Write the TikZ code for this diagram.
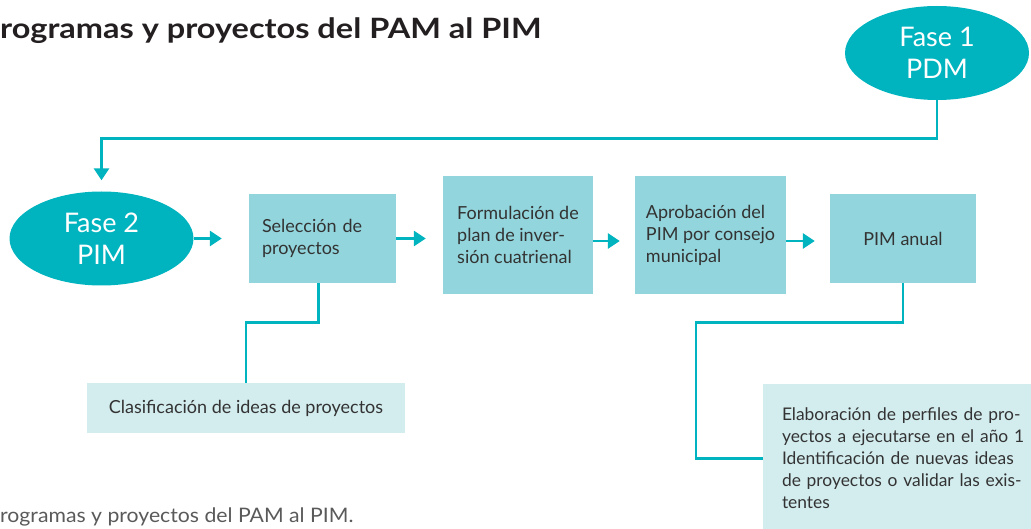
\documentclass[tikz,border=0pt]{standalone}
\usepackage{fontspec}
\setmainfont{Lato}
\usetikzlibrary{arrows.meta,shapes.geometric}
\definecolor{tealc}{HTML}{00B4BF}
\definecolor{boxc}{HTML}{92D5DC}
\definecolor{lightc}{HTML}{D3ECEE}
\definecolor{txtc}{HTML}{333333}
\definecolor{titlec}{HTML}{231F20}
\definecolor{capc}{HTML}{5A5A5A}
\begin{document}
\begin{tikzpicture}[x=1pt,y=-1pt,
  conn/.style={draw=tealc, line width=2.8pt},
  arr/.style={conn, -{Triangle[length=12pt,width=15pt]}},
  phase/.style={ellipse, fill=tealc, text=white, inner sep=0pt, minimum width=184pt, minimum height=94pt, font=\fontsize{27}{32}\selectfont, align=center},
  stepbox/.style={fill=boxc, text=txtc, inner sep=0pt, font=\fontsize{18}{22}\selectfont, align=left},
  notebox/.style={fill=lightc, text=txtc, inner sep=0pt, font=\fontsize{18}{22}\selectfont, align=left},
]
\useasboundingbox (0,0) rectangle (1031,529);
\clip (0,0) rectangle (1031,529);

\node[anchor=base west, inner sep=0pt, font=\fontsize{28}{30}\selectfont\bfseries, text=titlec] (title) at (0,39) {\scalebox{1.16}[1]{rogramas y proyectos del PAM al PIM}};

\node[phase] (f1) at (937,53) {Fase 1\\PDM};
\node[phase] (f2) at (101.5,238.5) {Fase 2\\PIM};

\node[stepbox, text width=121pt, inner xsep=13pt, minimum height=89pt] (b1) at (322.5,238.5) {Selección de\\proyectos};
\node[stepbox, minimum width=150pt, minimum height=118pt] (b2) at (518,235) {Formulación de\\plan de inver-\\sión cuatrienal};
\node[stepbox, minimum width=151pt, minimum height=118pt] (b3) at (710.5,235) {Aprobación del\\PIM por consejo\\municipal};
\node[stepbox, minimum width=146pt, minimum height=89pt] (b4) at (903,238.5) {PIM anual};

\node[notebox, minimum width=318pt, minimum height=50pt] (cl) at (246,408) {Clasificación de ideas de proyectos};
\node[notebox, font=\fontsize{17.4}{22}\selectfont, text width=256pt, inner xsep=19pt, minimum height=149pt] (b5) at (910,458.5) {Elaboración de perfiles de pro-\\yectos a ejecutarse en el año 1\\Identificación de nuevas ideas\\de proyectos o validar las exis-\\tentes};

\node[anchor=base west, inner sep=0pt, font=\fontsize{20}{22}\selectfont, text=capc] (cap) at (0,522) {\scalebox{1.06}[1]{rogramas y proyectos del PAM al PIM.}};

\draw[arr, shorten >=11pt] (f1.south) -- ++(0,38) -| (f2.north);
\draw[arr, shorten >=27pt] (f2.east) -- (f2.east -| b1.west);
\draw[arr, shorten >=17pt] (b1.east) -- (b1.east -| b2.west);
\draw[arr, shorten >=15pt] ([yshift=-6pt]b2.east) -- ([yshift=-6pt]b2.east -| b3.west);
\draw[arr, shorten >=15pt] ([yshift=-6pt]b3.east) -- ([yshift=-6pt]b3.east -| b4.west);
\draw[conn] ([xshift=-4pt]b1.south) -- ++(0,39) -| (cl.north);
\draw[conn] (b4.south) -- ++(0,39) -- ++(-207,0) |- (b5.west);
\end{tikzpicture}
\end{document}
